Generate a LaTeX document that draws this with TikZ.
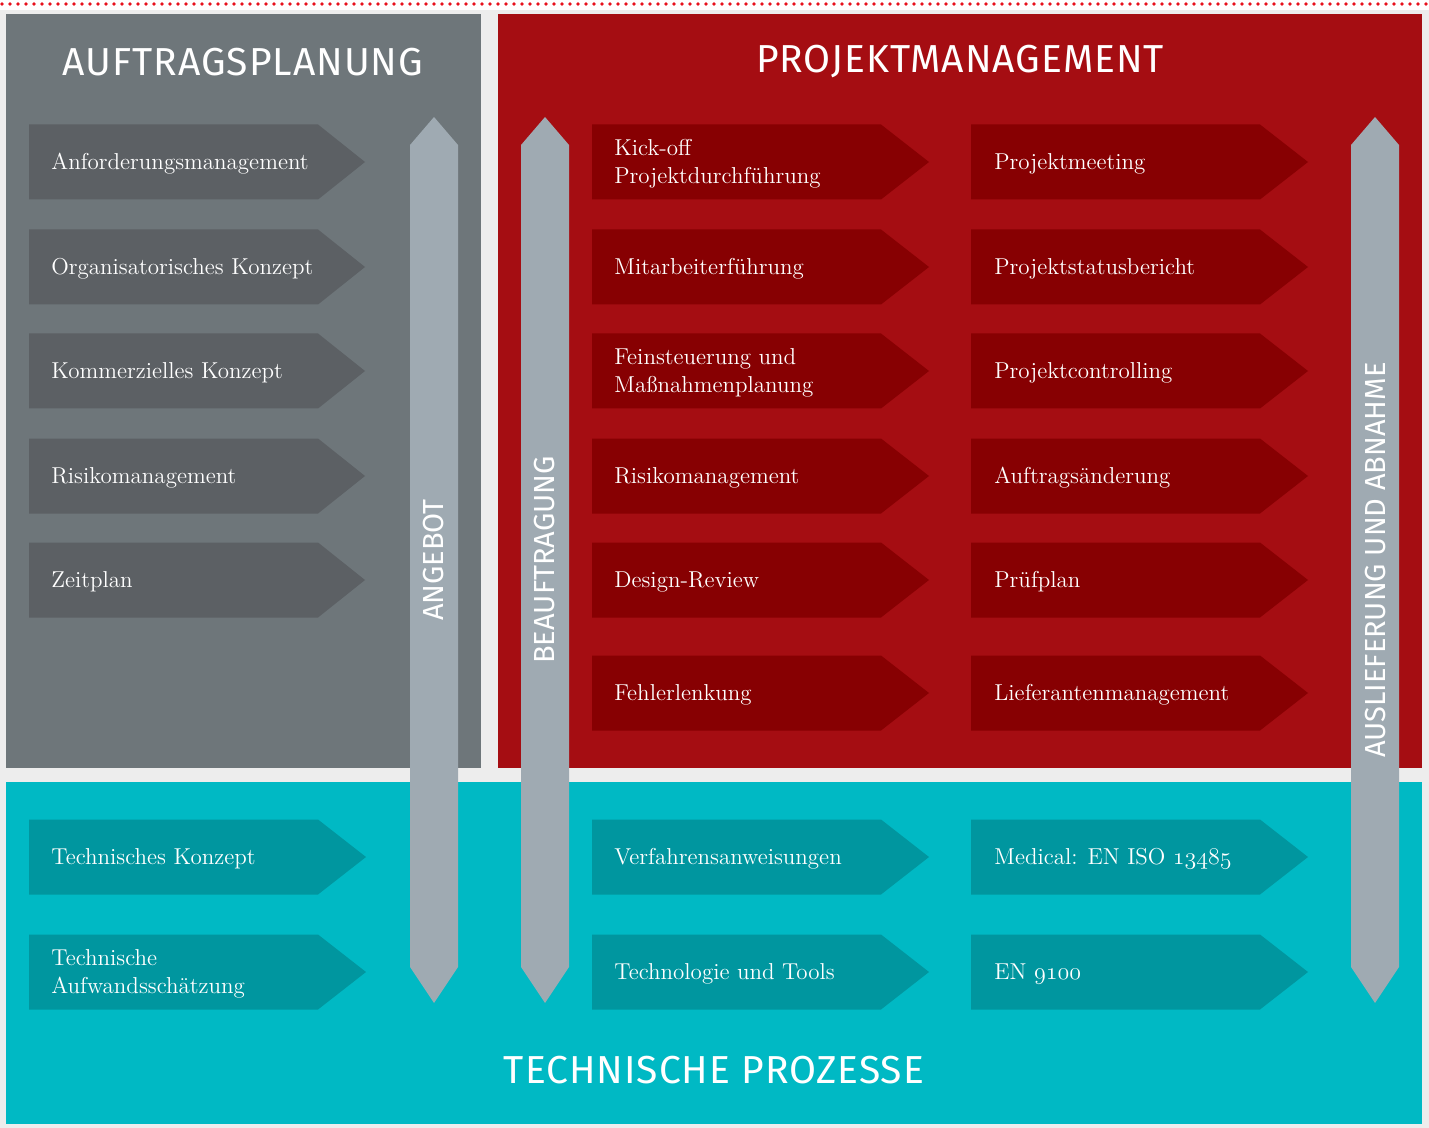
\documentclass[tikz,border=0pt]{standalone}
\usepackage{fontspec}
\newfontfamily\titlefont{Fira Sans}
\newfontfamily\headfont[LetterSpace=2.5]{Fira Sans}

\definecolor{pagebg}{HTML}{EDEDED}
\definecolor{dotred}{HTML}{E8101C}
\definecolor{planpanel}{HTML}{6E767A}
\definecolor{planbox}{HTML}{5C6064}
\definecolor{pmpanel}{HTML}{A50D12}
\definecolor{pmbox}{HTML}{870002}
\definecolor{techpanel}{HTML}{00B9C4}
\definecolor{techbox}{HTML}{00969F}
\definecolor{phasegray}{HTML}{9FAAB2}

\begin{document}
\begin{tikzpicture}[x=0.5pt, y=-0.5pt,
    boxtext/.style={anchor=west, align=left, inner sep=0pt, text=white, yshift=-1pt,
        font=\fontsize{11.5}{14}\selectfont},
    title/.style={text=white, inner sep=0pt, font=\headfont\fontsize{19.5}{22}\selectfont},
    phase/.style={text=white, inner sep=0pt, rotate=90, font=\titlefont\fontsize{14.5}{17}\selectfont}]
    \useasboundingbox (0,0) rectangle (1429,1128);

    % background
    \fill[pagebg] (0,0) rectangle (1429,1128);
    \fill[white] (0,0) rectangle (1429,10);
    \draw[dotred, line width=1.8pt, line cap=round, dash pattern=on 0pt off 4pt] (2,4) -- (1429,4);

    % panels
    \fill[planpanel] (6,14) rectangle (481,768);
    \fill[pmpanel] (498,14) rectangle (1422,768);
    \fill[techpanel] (6,782) rectangle (1422,1124);

    % titles
    \node[title] (tplan) at (243,62) {AUFTRAGSPLANUNG};
    \node[title] (tpm) at (960,62) {PROJEKTMANAGEMENT};
    \node[title] (ttech) at (714,1070) {TECHNISCHE PROZESSE};

    % boxes
    \foreach \c in {162,267,371,476,580}
        \fill[planbox] (29,\c-37.5) -- (318,\c-37.5) -- (365,\c) -- (318,\c+37.5) -- (29,\c+37.5) -- cycle;
    \foreach \l in {592,971}
        \foreach \c in {162,267,371,476,580,693}
            \fill[pmbox] (\l,\c-37.5) -- (\l+289,\c-37.5) -- (\l+337,\c) -- (\l+289,\c+37.5) -- (\l,\c+37.5) -- cycle;
    \foreach \l in {29,592,971}
        \foreach \c in {857,972}
            \fill[techbox] (\l,\c-37.5) -- (\l+289,\c-37.5) -- (\l+337,\c) -- (\l+289,\c+37.5) -- (\l,\c+37.5) -- cycle;

    % phase arrows
    \foreach \x in {434,545,1375}
        \fill[phasegray] (\x,117) -- (\x+24,145) -- (\x+24,967) -- (\x,1003) -- (\x-24,967) -- (\x-24,145) -- cycle;
    \node[phase] (angebot) at (434,560) {ANGEBOT};
    \node[phase] (beauftragung) at (545,560) {BEAUFTRAGUNG};
    \node[phase] (auslieferung) at (1375,560) {AUSLIEFERUNG UND ABNAHME};

    % auftragsplanung
    \node[boxtext] (plan1) at (51,162) {Anforderungsmanagement};
    \node[boxtext] (plan2) at (51,267) {Organisatorisches Konzept};
    \node[boxtext] (plan3) at (51,371) {Kommerzielles Konzept};
    \node[boxtext] (plan4) at (51,476) {Risikomanagement};
    \node[boxtext] (plan5) at (51,580) {Zeitplan};

    % projektmanagement
    \node[boxtext] (pm1) at (614,162) {Kick-off\\Projektdurchführung};
    \node[boxtext] (pm2) at (614,267) {Mitarbeiterführung};
    \node[boxtext] (pm3) at (614,371) {Feinsteuerung und\\Maßnahmenplanung};
    \node[boxtext] (pm4) at (614,476) {Risikomanagement};
    \node[boxtext] (pm5) at (614,580) {Design-Review};
    \node[boxtext] (pm6) at (614,693) {Fehlerlenkung};
    \node[boxtext] (pm7) at (994,162) {Projektmeeting};
    \node[boxtext] (pm8) at (994,267) {Projektstatusbericht};
    \node[boxtext] (pm9) at (994,371) {Projektcontrolling};
    \node[boxtext] (pm10) at (994,476) {Auftragsänderung};
    \node[boxtext] (pm11) at (994,580) {Prüfplan};
    \node[boxtext] (pm12) at (994,693) {Lieferantenmanagement};

    % technische prozesse
    \node[boxtext] (tech1) at (51,857) {Technisches Konzept};
    \node[boxtext] (tech2) at (51,972) {Technische\\Aufwandsschätzung};
    \node[boxtext] (tech3) at (614,857) {Verfahrensanweisungen};
    \node[boxtext] (tech4) at (614,972) {Technologie und Tools};
    \node[boxtext] (tech5) at (994,857) {Medical: EN ISO \legacyoldstylenums{13485}};
    \node[boxtext] (tech6) at (994,972) {EN \legacyoldstylenums{9100}};
\end{tikzpicture}
\end{document}
